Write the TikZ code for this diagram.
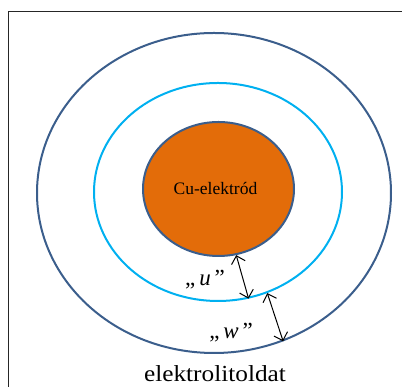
\documentclass[tikz,border=0pt]{standalone}
\usepackage{fontspec}
\setmainfont{Liberation Serif}
\usepackage{xcolor}
\usetikzlibrary{shapes.geometric, arrows.meta, positioning}

\definecolor{ringblue}{HTML}{3B5E8C}
\definecolor{ringcyan}{HTML}{00B0F0}
\definecolor{cuorange}{HTML}{E36C09}

\begin{document}
\begin{tikzpicture}[x=1pt, y=1pt,
  ring/.style={draw, ellipse, line width=2pt, inner sep=0pt},
  gap/.style={{Straight Barb[length=2.5mm]}-{Straight Barb[length=2.5mm]}, line width=1pt},
  lbl/.style={font=\fontsize{23}{23}\selectfont}]
\useasboundingbox (0,0) rectangle (402,387);
\draw[line width=1pt, black!85] (8,-5) -- (8,375) -- (410,375);
\node[ring, draw=ringblue, minimum width=354pt, minimum height=320pt] (outer) at (214,194) {};
\node[ring, draw=ringcyan, minimum width=248pt, minimum height=218pt] (layer) at (218,195) {};
\node[ring, draw=ringblue, fill=cuorange, minimum width=151pt, minimum height=134pt,
      font=\fontsize{17.5}{17.5}\selectfont] (cu) at (218.5,198) {\hspace*{-6pt}Cu-elektród};
\draw[gap] (cu.-75) -- (layer.-74);
\draw[gap] (layer.-64) -- (outer.-65.5);
\node[lbl] (u) at (205,107) {„\,\textit{u}\,”};
\node[lbl] (w) at (231,54) {„\,\textit{w}\,”};
\node[font=\fontsize{23}{23}\selectfont, xscale=1.1] (sol) at (215,13) {elektrolitoldat};
\end{tikzpicture}
\end{document}
